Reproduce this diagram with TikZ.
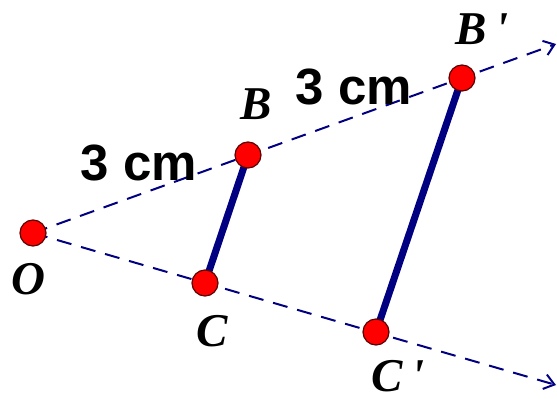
\documentclass[tikz,border=0pt]{standalone}
\usepackage{fontspec}
\setmainfont{Liberation Serif}
\setsansfont{Liberation Sans}
\usetikzlibrary{arrows.meta}
\definecolor{RayBlue}{RGB}{0,0,128}
\definecolor{DotRed}{RGB}{255,0,0}
\definecolor{DotRim}{RGB}{90,0,0}
\tikzset{
  ray/.style={draw=RayBlue,line width=2pt,dash pattern=on 15pt off 10pt,
    -{Straight Barb[length=10pt,width=15pt,line width=2pt]}},
  segment/.style={draw=RayBlue,line width=7pt},
  point/.style={circle,fill=DotRed,draw=DotRim,line width=1.2pt,
    minimum size=26pt,inner sep=0pt},
  ptlabel/.style={inner sep=0pt,font=\fontsize{47}{47}\selectfont\bfseries\itshape},
  dist/.style={inner sep=0pt,font=\fontsize{51}{51}\selectfont\sffamily\bfseries}
}

\begin{document}
\begin{tikzpicture}[x=1pt,y=-1pt]
      \useasboundingbox (0,0) rectangle (557,399);
      \coordinate (o) at (33,233);
      \coordinate (b) at (248,155);
      \coordinate (bb) at (462,78);
      \coordinate (c) at (205,283);
      \coordinate (cc) at (376,332);
      \coordinate (upend) at (556,44);
      \coordinate (lowend) at (556,385);

      \draw[ray] (o) -- (upend);
      \draw[ray] (o) -- (lowend);
      \draw[segment] (b) -- (c);
      \draw[segment] (bb) -- (cc);

      \node[point] (O) at (o) {};
      \node[point] (B) at (b) {};
      \node[point] (Bp) at (bb) {};
      \node[point] (C) at (c) {};
      \node[point] (Cp) at (cc) {};

      \node[ptlabel] (labO) at (28,279) {O};
      \node[ptlabel] (labB) at (256,104) {B};
      \node[ptlabel] (labBp) at (482,29) {B\hspace{8pt}\textquotesingle};
      \node[ptlabel] (labC) at (212,331) {C};
      \node[ptlabel] (labCp) at (398,376) {C\hspace{8pt}\textquotesingle};

      \node[dist] (distOB) at (139,163) {3 cm};
      \node[dist] (distBB) at (354,87) {3 cm};
    \end{tikzpicture}
\end{document}
